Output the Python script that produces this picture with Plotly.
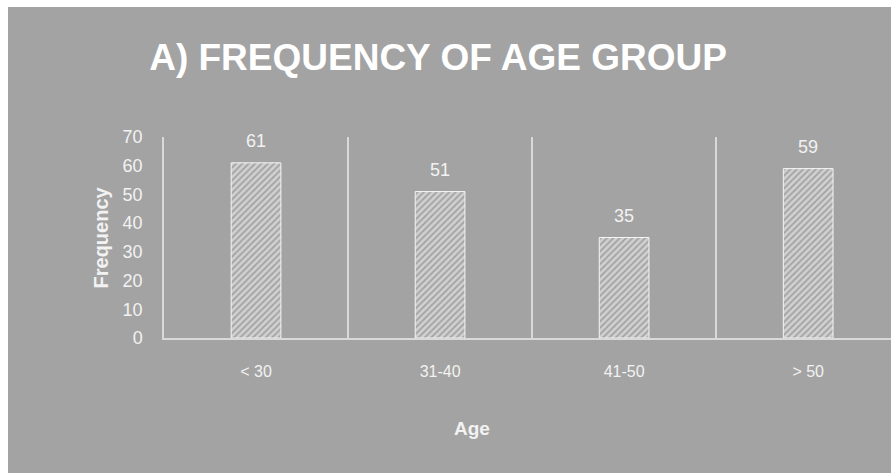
import plotly.graph_objects as go

categories = ["< 30", "31-40", "41-50", "> 50"]
frequency = [61, 51, 35, 59]
y_ticks = [0, 10, 20, 30, 40, 50, 60, 70]

GRAY = "#a3a3a3"
LINE = "#d9d9d9"
TXT = "#f2f2f2"
FONT = "Liberation Sans, Arial, sans-serif"

xpos = list(range(len(categories)))

fig = go.Figure()
fig.add_trace(go.Bar(
    x=xpos, y=frequency, width=0.27,
    marker=dict(color=GRAY,
                line=dict(color="#f5f5f5", width=1),
                pattern=dict(shape="/", fgcolor="#ffffff", bgcolor=GRAY,
                             size=4.5, solidity=0.6)),
    hoverinfo="x+y", showlegend=False,
))

for xi, v in zip(xpos, frequency):
    fig.add_annotation(x=xi, y=v, text=str(v), showarrow=False,
                       yanchor="bottom", yshift=10,
                       font=dict(family=FONT, size=18, color=TXT))

# background panel with white strip at top/left
fig.add_shape(type="rect", xref="paper", yref="paper",
              x0=-0.2146, x1=1.2, y0=-1.0, y1=1.647,
              fillcolor=GRAY, line=dict(width=0), layer="below")

fig.add_annotation(xref="paper", yref="paper", x=-0.0867, y=0.5,
                   text="<b>Frequency</b>", textangle=-90, showarrow=False,
                   xanchor="center", yanchor="middle",
                   font=dict(family=FONT, size=20, color=TXT))
fig.add_annotation(xref="paper", yref="paper", x=0.4237, y=-0.4478,
                   text="<b>Age</b>", showarrow=False,
                   xanchor="center", yanchor="middle",
                   font=dict(family=FONT, size=19, color=TXT))

fig.update_layout(
    width=891, height=473,
    margin=dict(l=164, r=0, t=137, b=135),
    paper_bgcolor="#ffffff", plot_bgcolor=GRAY,
    title=dict(text="<b>A) FREQUENCY OF AGE GROUP</b>",
               xref="container", yref="container",
               x=0.4916, y=1 - 57 / 473, xanchor="center", yanchor="middle",
               font=dict(family=FONT, size=37, color="#ffffff")),
    bargap=0.7,
)
fig.update_xaxes(
    range=[-0.5, 3.45], tickmode="array", tickvals=xpos, ticktext=categories,
    showgrid=False, zeroline=False, showline=True, linecolor=LINE, linewidth=1.5,
    ticks="", ticklabelstandoff=18,
    tickfont=dict(family=FONT, size=16, color=TXT),
    minor=dict(tickmode="array", tickvals=[0.5, 1.5, 2.5], showgrid=True,
               gridcolor=LINE, gridwidth=1.5, ticks=""),
)
fig.update_yaxes(
    range=[0, 70], tickmode="array", tickvals=y_ticks,
    showgrid=False, zeroline=False, showline=True, linecolor=LINE, linewidth=1.5,
    ticks="", ticklabelstandoff=16,
    tickfont=dict(family=FONT, size=18, color=TXT),
)

fig.write_html("out.html")
